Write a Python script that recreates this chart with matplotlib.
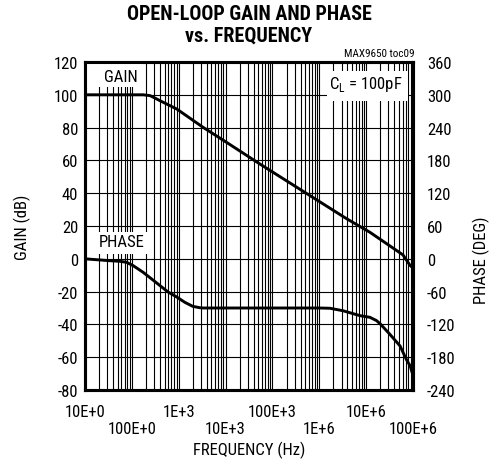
import numpy as np
import matplotlib
matplotlib.use("Agg")
import matplotlib.pyplot as plt
from matplotlib.ticker import FixedLocator, NullFormatter
from matplotlib.patches import Rectangle

plt.rcParams['font.family'] = ['Roboto Condensed', 'DejaVu Sans']

# gain curve (Hz, dB)
gain_freq = [10, 100, 175, 244, 312, 398, 553, 912, 3300, 10500, 54000, 3.9e6, 12e6,
             32e6, 61e6, 87e6, 1e8]
gain_db = [100, 100, 100, 99.5, 98.0, 96.4, 94.4, 91.3, 80.2, 71.0, 57.8, 24.3, 16.2,
           7.9, 2.4, -4.1, -5.6]

# phase curve (Hz, deg)
phase_freq = [10, 15, 34, 56, 77, 107, 174, 265, 398, 600, 912, 1350, 2000, 2830, 3300,
              10000, 1e6, 1.7e6, 3.2e6, 7.4e6, 12e6, 16.6e6, 20e6, 32e6, 53e6, 72e6,
              87e6, 95e6, 1e8]
phase_deg = [0, -1.2, -3.5, -4.6, -6.4, -12.6, -24.7, -37, -49, -61, -70, -79.6, -87,
             -89.5, -90, -90, -90, -90.5, -95, -104, -107, -113, -119, -138, -159.5,
             -184, -196, -207, -212]

gain_ticks = list(range(-80, 121, 20))
phase_ticks = list(range(-240, 361, 60))
freq_ticks = [1e1, 1e2, 1e3, 1e4, 1e5, 1e6, 1e7, 1e8]
freq_labels = ["10E+0", "100E+0", "1E+3", "10E+3", "100E+3", "1E+6", "10E+6", "100E+6"]

fig = plt.figure(figsize=(4.97, 4.64), dpi=100)
ax = fig.add_axes([85/497, 1-391/464, 328/497, 328/464])

ax.set_xscale("log")
ax.set_xlim(10, 1e8)
ax.set_ylim(-80, 120)
ax.set_yticks(gain_ticks)
ax.set_yticklabels([str(v) for v in gain_ticks])
ax.xaxis.set_major_locator(FixedLocator(freq_ticks))
minor = [m * d for d in freq_ticks[:-1] for m in range(2, 10)]
ax.xaxis.set_minor_locator(FixedLocator(minor))
ax.xaxis.set_minor_formatter(NullFormatter())
ax.set_xticklabels([])
ax.tick_params(length=0, which="both", labelsize=12, pad=5)
ax.grid(True, which="both", axis="x", color="black", lw=0.8)
ax.grid(True, which="major", axis="y", color="black", lw=0.8)
ax.set_axisbelow(True)

# white label boxes over the grid
for (x0, y0, w, h) in [(0.006, 0.924, 0.171, 0.076), (0.03, 0.415, 0.162, 0.067),
                       (0.738, 0.881, 0.247, 0.092)]:
    ax.add_patch(Rectangle((x0, y0), w, h, transform=ax.transAxes, facecolor="white",
                           edgecolor="none", zorder=3))

ax.plot(gain_freq, gain_db, color="black", lw=2.1, solid_joinstyle="round", zorder=5)

ax2 = ax.twinx()
ax2.set_ylim(-240, 360)
ax2.set_yticks(phase_ticks)
ax2.set_yticklabels([str(v) for v in phase_ticks])
ax2.tick_params(length=0, labelsize=12, pad=10)
ax2.plot(phase_freq, phase_deg, color="black", lw=2.1, solid_joinstyle="round", zorder=5)

for a in (ax, ax2):
    for s in a.spines.values():
        s.set_linewidth(2.2)

# staggered frequency labels
for i, (f, lab) in enumerate(zip(freq_ticks, freq_labels)):
    yoff = -22 if i % 2 == 0 else -39
    ax.annotate(lab, xy=(f, -80), xytext=(0, yoff), textcoords="offset pixels",
                ha="center", va="center", fontsize=12)

fig.text(121/497, 1-78/464, "GAIN", ha="center", va="center", fontsize=12)
fig.text(122/497, 1-243/464, "PHASE", ha="center", va="center", fontsize=12)
fig.text(366/497, 1-85/464, r"C$_\mathregular{L}$ = 100pF", ha="center", va="center", fontsize=12)

fig.text(249/497, 1-14/464, "OPEN-LOOP GAIN AND PHASE", ha="center", va="center",
         fontsize=14.5, fontweight="bold")
fig.text(249/497, 1-36/464, "vs. FREQUENCY", ha="center", va="center",
         fontsize=14.5, fontweight="bold")
fig.text(414/497, 1-54/464, "MAX9650 toc09", ha="right", va="center", fontsize=8)

fig.text(249/497, 1-450/464, "FREQUENCY (Hz)", ha="center", va="center", fontsize=12)
fig.text(22/497, 1-227/464, "GAIN (dB)", ha="center", va="center", fontsize=12, rotation=90)
fig.text(481/497, 1-260/464, "PHASE (DEG)", ha="center", va="center", fontsize=12, rotation=90)

fig.savefig("out.png", dpi=100)
